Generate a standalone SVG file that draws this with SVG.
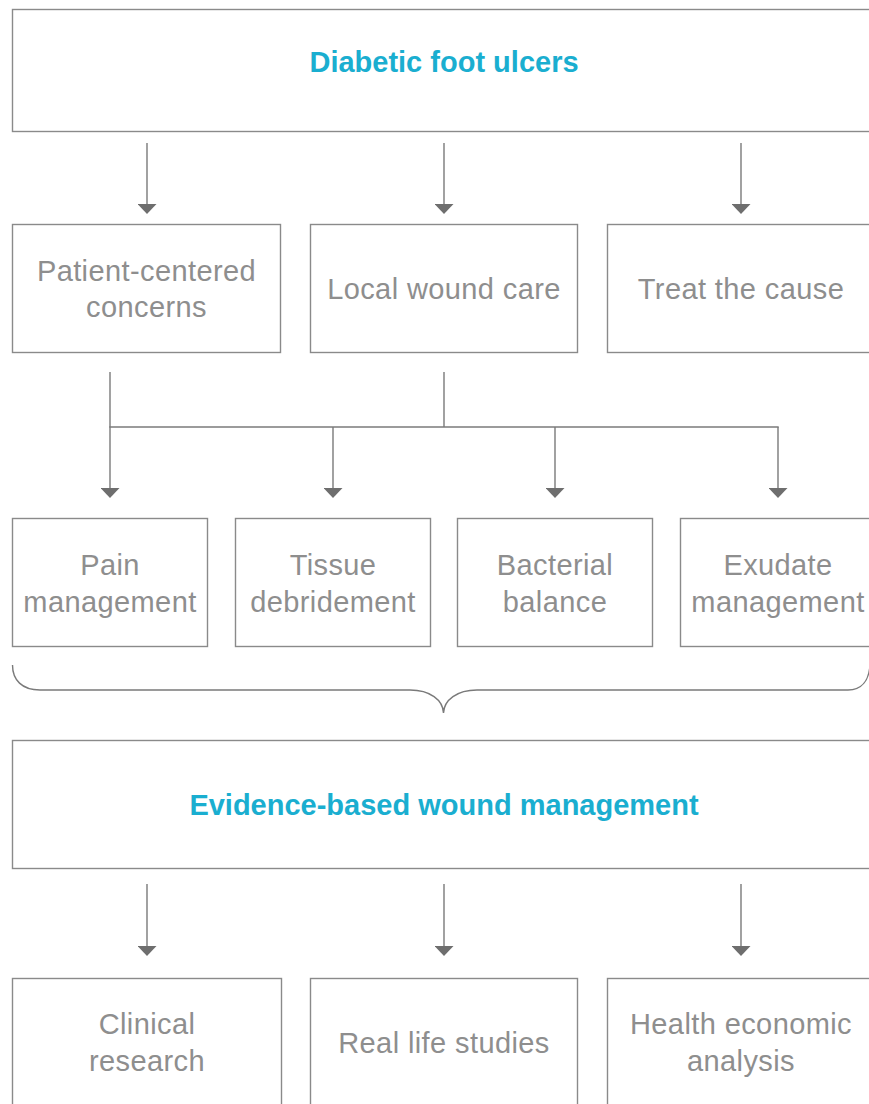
<svg xmlns="http://www.w3.org/2000/svg" width="869" height="1104" viewBox="0 0 869 1104">
<defs>
<style>
.box{fill:#fff;stroke:#8a8a8a;stroke-width:1.4}
.t{font-family:"Liberation Sans",Arial,sans-serif;font-size:29px;letter-spacing:0.4px;fill:#8e8e8e;text-anchor:middle}
.h{font-family:"Liberation Sans",Arial,sans-serif;font-size:29px;font-weight:bold;fill:#1aaed0;text-anchor:middle}
.ln{fill:none;stroke:#7a7a7a;stroke-width:1.4}
.ar{fill:none;stroke:#7a7a7a;stroke-width:1.4;marker-end:url(#ah)}
</style>
<marker id="ah" markerUnits="userSpaceOnUse" markerWidth="10" markerHeight="19" refX="0" refY="9.5" orient="auto" viewBox="0 0 10 19">
<path d="M0,0 L10,9.5 L0,19 z" fill="#6e6e6e"/>
</marker>
</defs>
<rect width="869" height="1104" fill="#fff"/>

<g id="n-dfu"><rect class="box" x="12.5" y="9.5" width="870" height="122"/><text class="h" x="444" y="72">Diabetic foot ulcers</text></g>

<g id="n-pcc"><rect class="box" x="12.5" y="224.5" width="268" height="128"/><text class="t" x="146.5" y="281">Patient-centered</text><text class="t" x="146.5" y="317">concerns</text></g>
<g id="n-lwc"><rect class="box" x="310.5" y="224.5" width="267" height="128"/><text class="t" x="444" y="299">Local wound care</text></g>
<g id="n-ttc"><rect class="box" x="607.5" y="224.5" width="270" height="128"/><text class="t" x="741" y="299">Treat the cause</text></g>

<g id="n-pain"><rect class="box" x="12.5" y="518.5" width="195" height="128"/><text class="t" x="110" y="575">Pain</text><text class="t" x="110" y="612">management</text></g>
<g id="n-tissue"><rect class="box" x="235.5" y="518.5" width="195" height="128"/><text class="t" x="333" y="575">Tissue</text><text class="t" x="333" y="612">debridement</text></g>
<g id="n-bact"><rect class="box" x="457.5" y="518.5" width="195" height="128"/><text class="t" x="555" y="575">Bacterial</text><text class="t" x="555" y="612">balance</text></g>
<g id="n-exu"><rect class="box" x="680.5" y="518.5" width="195" height="128"/><text class="t" x="778" y="575">Exudate</text><text class="t" x="778" y="612">management</text></g>

<g id="n-ebwm"><rect class="box" x="12.5" y="740.5" width="870" height="128"/><text class="h" x="444" y="815">Evidence-based wound management</text></g>

<g id="n-clin"><rect class="box" x="12.5" y="978.5" width="269" height="140"/><text class="t" x="147" y="1034">Clinical</text><text class="t" x="147" y="1071">research</text></g>
<g id="n-real"><rect class="box" x="310.5" y="978.5" width="267" height="140"/><text class="t" x="444" y="1053">Real life studies</text></g>
<g id="n-health"><rect class="box" x="607.5" y="978.5" width="270" height="140"/><text class="t" x="741" y="1034">Health economic</text><text class="t" x="741" y="1071">analysis</text></g>

<g id="connectors">
<line class="ar" x1="147" y1="143" x2="147" y2="204"/>
<line class="ar" x1="444" y1="143" x2="444" y2="204"/>
<line class="ar" x1="741" y1="143" x2="741" y2="204"/>

<line class="ln" x1="110" y1="372" x2="110" y2="427"/>
<line class="ln" x1="444" y1="372" x2="444" y2="427"/>
<line class="ln" x1="109.3" y1="427" x2="778.7" y2="427"/>
<line class="ar" x1="110" y1="427" x2="110" y2="488"/>
<line class="ar" x1="333" y1="427" x2="333" y2="488"/>
<line class="ar" x1="555" y1="427" x2="555" y2="488"/>
<line class="ar" x1="778" y1="427" x2="778" y2="488"/>

<path class="ln" d="M12.5,665 C12.5,680 22,690 40,690 H410 C430,690 443,700 443.5,713 C444,700 457,690 477,690 H848 C862,690 869,680 870,665"/>

<line class="ar" x1="147" y1="884" x2="147" y2="946"/>
<line class="ar" x1="444" y1="884" x2="444" y2="946"/>
<line class="ar" x1="741" y1="884" x2="741" y2="946"/>
</g>
</svg>
